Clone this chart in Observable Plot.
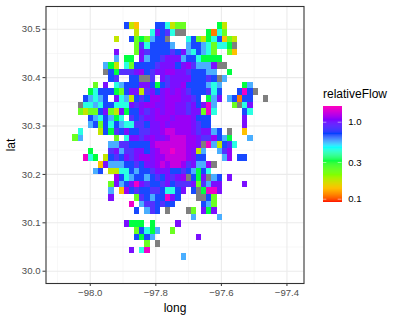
<!DOCTYPE html>
<html><head><meta charset="utf-8">
<script src="https://cdn.jsdelivr.net/npm/d3@7"></script>
<script src="https://cdn.jsdelivr.net/npm/@observablehq/plot@0.6"></script>
<style>html,body{margin:0;padding:0;background:#fff}#c{position:relative;width:399px;height:319px;font-family:"Liberation Sans",Arial,sans-serif}
#c svg{position:absolute;overflow:visible}</style></head>
<body><div id="c"></div>
<script>
// relativeFlow, one letter per cell; "x" = no value (grey)
const levels = {e:0.112,o:0.139,y:0.175,g:0.236,s:0.313,c:0.44,l:0.56,b:0.695,i:0.847,p:1.03,v:1.13,m:1.3,k:1.5};
const firstLong = -98.0293, stepLong = 0.0157, firstLat = 30.5064, stepLat = 0.01364;
const rows = [
"         byo   bbcygg      sy",
"           y  cpbicxx    secg",
"       y  bgsglbbx   cbgyscbogy",
"           gicbbbbl  lbblcgccsx",
"       p   gpibbbbibplcblcg  go",
"       l ss plbbippplbbcssss",
"     lsy cgbbbbipppbpvilllpxx",
"     xbsiiipvbippvvppibbbll  s",
"      bi  bbxxi pippppbbbibxl",
"   g p clbbbppbsbippvbbbblcl    sl",
"  scbbbsgbppyipbpvpvpibbbicb   bkbx",
" blclb pclybibvvpvvvppib slp lbebb  x",
"xcclcbbcccpipvvppvvppipbpkl   gxcp",
"gyggbpgypsbbpipvpvvppippgkc     bc",
"  blcblsc ibippvvvpvvvpbbb      p",
"  lbgbcblcciibppvpvvvvpibb      p",
"c   ybsibpbbiippvmmvvvpipplb x  o",
"l      g cppipvppvmmmvvpiivbls   l",
"      lliibbbbvmmmmmmvvpxklybic",
"  s   ipliippbpvmmkmmvpyl  liv",
" kcs ybibpipvvpvvmmmmvpbb   lv bb",
"    oplllbbibppvmvmmvipllvx",
"   lb yyccblbbipppbbiblsbc",
"       vbclbblbibpipvxbspxlb p",
"      gplbpkpibbipbiiipgilpp    p",
"      l ovbibbiibccbp bxskkp",
"      p    giblbbkpb   xxbg",
"          k liibibb     blg",
"           b lib x   xg psp",
"                      l    l",
"         psss s    p",
"           gbcsl  g",
"           bsbl        p",
"             g x",
"          p ck",
"                    l"
];
const strayCells = [{long:-98.0450,lat:30.275,code:"g"}];
const colorDomain = [0.092, 1.6];
const rainbow8 = ["#ff0000","#ffbf00","#80ff00","#00ff40","#00ffff","#0040ff","#8000ff","#ff00bf"];
const xMajor = [-98,-97.8,-97.6,-97.4], xMinor = [-98.1,-97.9,-97.7,-97.5];
const yMajor = [30,30.1,30.2,30.3,30.4,30.5], yMinor = [30.05,30.15,30.25,30.35,30.45];
const legendTicks = [1.0,0.3,0.1];

const cells = [...strayCells];
rows.forEach((row,r)=>[...row].forEach((code,n)=>{
  if(code!==" ") cells.push({long:firstLong+n*stepLong,lat:firstLat-r*stepLat,code});
}));
const valued = cells.filter(d=>d.code!=="x");
const missing = cells.filter(d=>d.code==="x");
const ramp = d3.piecewise(d3.interpolateLab, rainbow8);
const hw = stepLong*0.5, hh = stepLat*0.5;
const cellOpts = {x1:d=>d.long-hw,x2:d=>d.long+hw,y1:d=>d.lat-hh,y2:d=>d.lat+hh,shapeRendering:"crispEdges"};
const tickText = {fontSize:9.6,fill:"#4d4d4d"};
const chart = Plot.plot({
  width:399,height:319,marginLeft:45.5,marginRight:95.5,marginTop:6,marginBottom:36,
  style:{fontFamily:'"Liberation Sans",Arial,sans-serif',background:"transparent"},
  x:{domain:[-98.135,-97.348],label:null},
  y:{domain:[29.9746,30.547],label:null},
  color:{type:"log",domain:colorDomain,interpolate:ramp},
  marks:[
    Plot.ruleX(xMinor,{stroke:"#f2f2f2",strokeWidth:0.6}),
    Plot.ruleY(yMinor,{stroke:"#f2f2f2",strokeWidth:0.6}),
    Plot.ruleX(xMajor,{stroke:"#ebebeb",strokeWidth:1.1}),
    Plot.ruleY(yMajor,{stroke:"#ebebeb",strokeWidth:1.1}),
    Plot.rect(valued,{...cellOpts,fill:d=>levels[d.code]}),
    Plot.rect(missing,{...cellOpts,fill:"#7f7f7f"}),
    Plot.frame({stroke:"#333333",strokeWidth:1.1}),
    Plot.axisX(xMajor,{tickFormat:d3.format(".1f"),tickSize:3,stroke:"#333",tickPadding:3,...tickText,label:"long",labelAnchor:"center",labelArrow:"none",labelOffset:28}),
    Plot.axisY(yMajor,{tickFormat:d3.format(".1f"),tickSize:3,stroke:"#333",tickPadding:2.5,...tickText,label:"lat",labelAnchor:"center",labelArrow:"none",labelOffset:40})
  ]
});
chart.style.left="0";chart.style.top="0";
document.getElementById("c").append(chart);
chart.querySelectorAll('[aria-label="x-axis label"], [aria-label="y-axis label"]').forEach(g=>{
  g.setAttribute("font-size","12");g.setAttribute("fill","#000");
  g.querySelectorAll("text").forEach(t=>{t.setAttribute("font-size","12");t.setAttribute("fill","#000");t.style.fontSize="12px";t.style.fill="#000"});
});

const legendSteps = d3.range(0,96).map(i=>{
  const a=Math.log10(colorDomain[0]),b=Math.log10(colorDomain[1]);
  return {y1:10**(a+(b-a)*i/96),y2:10**(a+(b-a)*(i+1)/96),m:10**(a+(b-a)*(i+0.5)/96)};
});
const legend = Plot.plot({
  width:89,height:130,marginLeft:12.5,marginRight:57.5,marginTop:26,marginBottom:8.5,
  style:{fontFamily:'"Liberation Sans",Arial,sans-serif',background:"transparent"},
  x:{domain:[0,1],axis:null},
  y:{type:"log",domain:colorDomain,axis:null},
  color:{type:"log",domain:colorDomain,interpolate:ramp},
  marks:[
    Plot.rect(legendSteps,{x1:0,x2:1,y1:"y1",y2:"y2",fill:"m",shapeRendering:"crispEdges"}),
    Plot.ruleY(legendTicks,{y:d=>d,x1:0,x2:0.2,stroke:"#fff",strokeWidth:0.5}),
    Plot.ruleY(legendTicks,{y:d=>d,x1:0.8,x2:1,stroke:"#fff",strokeWidth:0.5}),
    Plot.text(legendTicks,{y:d=>d,frameAnchor:"right",dx:6.2,text:d=>d3.format(".1f")(d),textAnchor:"start",fontSize:9.6,fill:"#000"}),
    Plot.text(["relativeFlow"],{frameAnchor:"top-left",dy:-17.5,dx:0,text:d=>d,textAnchor:"start",fontSize:12,fill:"#000"})
  ]
});
legend.style.left="310px";legend.style.top="80px";
document.getElementById("c").append(legend);
</script></body></html>
